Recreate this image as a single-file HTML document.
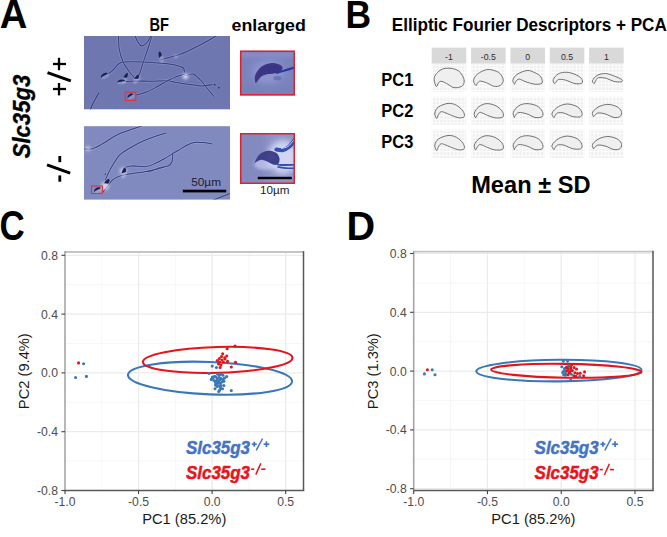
<!DOCTYPE html>
<html><head><meta charset="utf-8"><style>
html,body{margin:0;padding:0;background:#fff;width:667px;height:537px;overflow:hidden}
svg{display:block;font-family:"Liberation Sans",sans-serif}
</style></head><body>
<svg width="667" height="537" viewBox="0 0 667 537" font-family="Liberation Sans, sans-serif"><defs><filter id="blur1" x="-20%" y="-20%" width="140%" height="140%"><feGaussianBlur stdDeviation="0.45"/></filter><filter id="blur2" x="-50%" y="-50%" width="200%" height="200%"><feGaussianBlur stdDeviation="1.5"/></filter><filter id="blur3" x="-50%" y="-50%" width="200%" height="200%"><feGaussianBlur stdDeviation="3"/></filter><pattern id="gp" x="0" y="0" width="3.6" height="3.6" patternUnits="userSpaceOnUse"><rect width="3.6" height="3.6" fill="#f0f0f0"/><rect width="3.6" height="0.9" fill="#fdfdfd"/><rect width="0.9" height="3.6" fill="#fdfdfd"/></pattern></defs>
<text x="-0.3" y="28.2" font-size="40" font-weight="bold" font-style="normal" fill="#000" text-anchor="start" textLength="27.6" lengthAdjust="spacingAndGlyphs">A</text>
<text x="345.6" y="28.4" font-size="39" font-weight="bold" font-style="normal" fill="#000" text-anchor="start" textLength="25.6" lengthAdjust="spacingAndGlyphs">B</text>
<text x="-0.4" y="240.3" font-size="42.5" font-weight="bold" font-style="normal" fill="#000" text-anchor="start" textLength="25.2" lengthAdjust="spacingAndGlyphs">C</text>
<text x="346.4" y="240.2" font-size="40.5" font-weight="bold" font-style="normal" fill="#000" text-anchor="start" textLength="28.6" lengthAdjust="spacingAndGlyphs">D</text>
<text x="149.5" y="31" font-size="18" font-weight="bold" font-style="normal" fill="#000" text-anchor="start" textLength="19.5" lengthAdjust="spacingAndGlyphs">BF</text>
<text x="231.6" y="31" font-size="16.5" font-weight="bold" font-style="normal" fill="#000" text-anchor="start" textLength="74.2" lengthAdjust="spacingAndGlyphs">enlarged</text>
<g transform="translate(29.9,158.3) rotate(-90)"><text x="0" y="0" font-size="24" font-weight="bold" font-style="italic" fill="#000" text-anchor="start" textLength="83.5" lengthAdjust="spacingAndGlyphs" stroke="#000" stroke-width="0.35">Slc35g3</text></g>
<line x1="59" y1="57.8" x2="59" y2="70.2" stroke="#000" stroke-width="2.3"/>
<line x1="53" y1="64" x2="66" y2="64" stroke="#000" stroke-width="2.3"/>
<line x1="47.5" y1="72.6" x2="70.8" y2="80.8" stroke="#000" stroke-width="3.0"/>
<line x1="59" y1="83" x2="59" y2="95.4" stroke="#000" stroke-width="2.3"/>
<line x1="53" y1="89" x2="66" y2="89" stroke="#000" stroke-width="2.3"/>
<line x1="59.8" y1="156" x2="59.8" y2="162.2" stroke="#000" stroke-width="2.8"/>
<line x1="47" y1="164.8" x2="70.2" y2="173.2" stroke="#000" stroke-width="3.0"/>
<line x1="59.8" y1="175.4" x2="59.8" y2="181.7" stroke="#000" stroke-width="2.8"/>
<clipPath id="c1"><rect x="84" y="36" width="146" height="73.3"/></clipPath>
<rect x="84" y="36" width="146" height="73.3" fill="#6f77b0"/>
<g clip-path="url(#c1)"><path d="M118.50,34.00 C118.62,36.50 118.43,44.33 119.20,49.00 C119.97,53.67 121.47,58.30 123.10,62.00 C124.73,65.70 126.93,68.37 129.00,71.20 C131.07,74.03 134.42,77.70 135.50,79.00" fill="none" stroke="#e6e9ff" stroke-width="2.6500000000000004" stroke-opacity="0.18" filter="url(#blur1)"/><path d="M118.50,34.00 C118.62,36.50 118.43,44.33 119.20,49.00 C119.97,53.67 121.47,58.30 123.10,62.00 C124.73,65.70 126.93,68.37 129.00,71.20 C131.07,74.03 134.42,77.70 135.50,79.00" fill="none" stroke="#2f367c" stroke-width="1.05" stroke-opacity="0.9"/><path d="M152.50,34.00 C151.72,36.50 149.33,44.33 147.80,49.00 C146.27,53.67 144.60,58.08 143.30,62.00 C142.00,65.92 141.08,69.67 140.00,72.50 C138.92,75.33 137.33,77.92 136.80,79.00" fill="none" stroke="#e6e9ff" stroke-width="2.6500000000000004" stroke-opacity="0.18" filter="url(#blur1)"/><path d="M152.50,34.00 C151.72,36.50 149.33,44.33 147.80,49.00 C146.27,53.67 144.60,58.08 143.30,62.00 C142.00,65.92 141.08,69.67 140.00,72.50 C138.92,75.33 137.33,77.92 136.80,79.00" fill="none" stroke="#2f367c" stroke-width="1.05" stroke-opacity="0.9"/><path d="M134.30,34.00 C134.82,35.20 136.23,39.23 137.40,41.20 C138.57,43.17 139.78,45.47 141.30,45.80 C142.82,46.13 144.98,44.62 146.50,43.20 C148.02,41.78 149.57,38.83 150.40,37.30 C151.23,35.77 151.32,34.55 151.50,34.00" fill="none" stroke="#e6e9ff" stroke-width="2.6500000000000004" stroke-opacity="0.18" filter="url(#blur1)"/><path d="M134.30,34.00 C134.82,35.20 136.23,39.23 137.40,41.20 C138.57,43.17 139.78,45.47 141.30,45.80 C142.82,46.13 144.98,44.62 146.50,43.20 C148.02,41.78 149.57,38.83 150.40,37.30 C151.23,35.77 151.32,34.55 151.50,34.00" fill="none" stroke="#2f367c" stroke-width="1.05" stroke-opacity="0.9"/><path d="M106.80,74.40 C107.67,73.87 110.05,72.93 112.00,71.20 C113.95,69.47 116.43,65.53 118.50,64.00 C120.57,62.47 120.38,62.33 124.40,62.00 C128.42,61.67 136.00,61.75 142.60,62.00 C149.20,62.25 158.60,63.00 164.00,63.50 C169.40,64.00 171.80,64.25 175.00,65.00 C178.20,65.75 181.62,66.75 183.20,68.00 C184.78,69.25 184.28,71.75 184.50,72.50" fill="none" stroke="#e6e9ff" stroke-width="2.6500000000000004" stroke-opacity="0.18" filter="url(#blur1)"/><path d="M106.80,74.40 C107.67,73.87 110.05,72.93 112.00,71.20 C113.95,69.47 116.43,65.53 118.50,64.00 C120.57,62.47 120.38,62.33 124.40,62.00 C128.42,61.67 136.00,61.75 142.60,62.00 C149.20,62.25 158.60,63.00 164.00,63.50 C169.40,64.00 171.80,64.25 175.00,65.00 C178.20,65.75 181.62,66.75 183.20,68.00 C184.78,69.25 184.28,71.75 184.50,72.50" fill="none" stroke="#2f367c" stroke-width="1.05" stroke-opacity="0.9"/><path d="M160.70,59.70 C162.08,59.33 165.87,58.37 169.00,57.50 C172.13,56.63 176.00,55.75 179.50,54.50 C183.00,53.25 186.58,51.58 190.00,50.00 C193.42,48.42 195.78,47.25 200.00,45.00 C204.22,42.75 212.30,38.33 215.30,36.50 C218.30,34.67 217.55,34.42 218.00,34.00" fill="none" stroke="#e6e9ff" stroke-width="2.6500000000000004" stroke-opacity="0.18" filter="url(#blur1)"/><path d="M160.70,59.70 C162.08,59.33 165.87,58.37 169.00,57.50 C172.13,56.63 176.00,55.75 179.50,54.50 C183.00,53.25 186.58,51.58 190.00,50.00 C193.42,48.42 195.78,47.25 200.00,45.00 C204.22,42.75 212.30,38.33 215.30,36.50 C218.30,34.67 217.55,34.42 218.00,34.00" fill="none" stroke="#2f367c" stroke-width="1.05" stroke-opacity="0.9"/><path d="M185.50,76.00 C186.75,75.67 190.50,73.33 193.00,74.00 C195.50,74.67 198.25,77.75 200.50,80.00 C202.75,82.25 204.25,84.75 206.50,87.50 C208.75,90.25 212.75,95.00 214.00,96.50" fill="none" stroke="#e6e9ff" stroke-width="2.6500000000000004" stroke-opacity="0.18" filter="url(#blur1)"/><path d="M185.50,76.00 C186.75,75.67 190.50,73.33 193.00,74.00 C195.50,74.67 198.25,77.75 200.50,80.00 C202.75,82.25 204.25,84.75 206.50,87.50 C208.75,90.25 212.75,95.00 214.00,96.50" fill="none" stroke="#2f367c" stroke-width="1.05" stroke-opacity="0.9"/><path d="M123.10,81.60 C125.25,81.50 131.52,81.05 136.00,81.00 C140.48,80.95 144.75,81.35 150.00,81.30 C155.25,81.25 163.33,80.55 167.50,80.70 C171.67,80.85 171.25,81.57 175.00,82.20 C178.75,82.83 185.50,83.87 190.00,84.50 C194.50,85.13 198.25,86.00 202.00,86.00 C205.75,86.00 210.75,84.75 212.50,84.50" fill="none" stroke="#e6e9ff" stroke-width="2.6500000000000004" stroke-opacity="0.18" filter="url(#blur1)"/><path d="M123.10,81.60 C125.25,81.50 131.52,81.05 136.00,81.00 C140.48,80.95 144.75,81.35 150.00,81.30 C155.25,81.25 163.33,80.55 167.50,80.70 C171.67,80.85 171.25,81.57 175.00,82.20 C178.75,82.83 185.50,83.87 190.00,84.50 C194.50,85.13 198.25,86.00 202.00,86.00 C205.75,86.00 210.75,84.75 212.50,84.50" fill="none" stroke="#2f367c" stroke-width="1.05" stroke-opacity="0.9"/><path d="M135.50,95.30 C137.33,94.75 142.92,93.42 146.50,92.00 C150.08,90.58 153.25,88.80 157.00,86.80 C160.75,84.80 164.75,82.02 169.00,80.00 C173.25,77.98 179.75,75.33 182.50,74.70 C185.25,74.07 185.00,75.95 185.50,76.20" fill="none" stroke="#e6e9ff" stroke-width="2.6500000000000004" stroke-opacity="0.18" filter="url(#blur1)"/><path d="M135.50,95.30 C137.33,94.75 142.92,93.42 146.50,92.00 C150.08,90.58 153.25,88.80 157.00,86.80 C160.75,84.80 164.75,82.02 169.00,80.00 C173.25,77.98 179.75,75.33 182.50,74.70 C185.25,74.07 185.00,75.95 185.50,76.20" fill="none" stroke="#2f367c" stroke-width="1.05" stroke-opacity="0.9"/><path d="M90.50,110.00 C90.72,109.33 90.72,108.33 91.80,106.00 C92.88,103.67 95.80,98.17 97.00,96.00 C98.20,93.83 98.67,93.50 99.00,93.00" fill="none" stroke="#e6e9ff" stroke-width="2.6500000000000004" stroke-opacity="0.1" filter="url(#blur1)"/><path d="M90.50,110.00 C90.72,109.33 90.72,108.33 91.80,106.00 C92.88,103.67 95.80,98.17 97.00,96.00 C98.20,93.83 98.67,93.50 99.00,93.00" fill="none" stroke="#2f367c" stroke-width="1.05" stroke-opacity="0.9"/><circle cx="185.5" cy="76.5" r="2.8" fill="#f4f0ff" fill-opacity="0.8" filter="url(#blur2)"/><circle cx="176" cy="56.3" r="1.6" fill="#f4f0ff" fill-opacity="0.5" filter="url(#blur2)"/><circle cx="138" cy="78" r="2" fill="#f4f0ff" fill-opacity="0.5" filter="url(#blur2)"/><g transform="rotate(-25 104.2 75.1)"><ellipse cx="104.5" cy="76.53999999999999" rx="4.4799999999999995" ry="2.3" fill="#eef0ff" fill-opacity="0.22" filter="url(#blur1)"/><path d="M100.042,76.36 C100.798,72.75999999999999 107.224,72.58 108.358,75.1 C106.09,76.0 102.688,75.46 100.042,76.36 Z" fill="#1d2157"/></g><g transform="rotate(25 125.7 76.4)"><ellipse cx="126.0" cy="79.52000000000001" rx="2.3200000000000003" ry="4.4" fill="#eef0ff" fill-opacity="0.22" filter="url(#blur1)"/><path d="M123.918,79.13000000000001 C124.242,71.33000000000001 126.99600000000001,70.94000000000001 127.482,76.4 C126.51,78.35000000000001 125.052,77.18 123.918,79.13000000000001 Z" fill="#1d2157"/></g><g transform="rotate(-5 121.1 81)"><ellipse cx="121.39999999999999" cy="82.32" rx="4.4799999999999995" ry="2.1500000000000004" fill="#eef0ff" fill-opacity="0.22" filter="url(#blur1)"/><path d="M116.942,82.155 C117.698,78.855 124.124,78.69 125.258,81 C122.99,81.825 119.588,81.33 116.942,82.155 Z" fill="#1d2157"/></g><g transform="rotate(25 136.8 77.7)"><ellipse cx="137.10000000000002" cy="80.58" rx="2.455" ry="4.1" fill="#eef0ff" fill-opacity="0.22" filter="url(#blur1)"/><path d="M134.86950000000002,80.22 C135.22050000000002,73.02000000000001 138.204,72.66 138.7305,77.7 C137.6775,79.5 136.098,78.42 134.86950000000002,80.22 Z" fill="#1d2157"/></g><g transform="rotate(-15 160.2 55.3)"><ellipse cx="160.5" cy="58.66" rx="2.3200000000000003" ry="4.699999999999999" fill="#eef0ff" fill-opacity="0.22" filter="url(#blur1)"/><path d="M158.41799999999998,58.239999999999995 C158.742,49.839999999999996 161.49599999999998,49.42 161.982,55.3 C161.01,57.4 159.552,56.14 158.41799999999998,58.239999999999995 Z" fill="#1d2157"/></g><g transform="rotate(-25 130.3 95.6)"><ellipse cx="130.60000000000002" cy="97.03999999999999" rx="3.9400000000000004" ry="2.3" fill="#eef0ff" fill-opacity="0.22" filter="url(#blur1)"/><path d="M126.736,96.86 C127.38400000000001,93.25999999999999 132.89200000000002,93.08 133.864,95.6 C131.92000000000002,96.5 129.00400000000002,95.96 126.736,96.86 Z" fill="#1d2157"/></g><circle cx="214.7" cy="84.8" r="0.8" fill="#1c2060"/><circle cx="218.8" cy="87.8" r="0.8" fill="#1c2060"/></g>
<clipPath id="c2"><rect x="84" y="126.2" width="146" height="73.4"/></clipPath>
<rect x="84" y="126.2" width="146" height="73.4" fill="#818abe"/>
<g clip-path="url(#c2)"><path d="M80.00,148.70 C82.05,148.70 88.18,149.73 92.30,148.70 C96.42,147.67 100.35,144.90 104.70,142.50 C109.05,140.10 112.22,137.05 118.40,134.30 C124.58,131.55 136.53,127.88 141.80,126.00 C147.07,124.12 148.63,123.50 150.00,123.00" fill="none" stroke="#e6e9ff" stroke-width="2.6500000000000004" stroke-opacity="0.18" filter="url(#blur1)"/><path d="M80.00,148.70 C82.05,148.70 88.18,149.73 92.30,148.70 C96.42,147.67 100.35,144.90 104.70,142.50 C109.05,140.10 112.22,137.05 118.40,134.30 C124.58,131.55 136.53,127.88 141.80,126.00 C147.07,124.12 148.63,123.50 150.00,123.00" fill="none" stroke="#2f367c" stroke-width="1.05" stroke-opacity="0.9"/><path d="M105.30,179.70 C106.33,177.63 109.08,171.43 111.50,167.30 C113.92,163.17 116.35,158.33 119.80,154.90 C123.25,151.47 127.83,149.22 132.20,146.70 C136.57,144.18 141.70,141.67 146.00,139.80 C150.30,137.93 154.67,136.63 158.00,135.50 C161.33,134.37 164.67,133.42 166.00,133.00" fill="none" stroke="#e6e9ff" stroke-width="2.6500000000000004" stroke-opacity="0.18" filter="url(#blur1)"/><path d="M105.30,179.70 C106.33,177.63 109.08,171.43 111.50,167.30 C113.92,163.17 116.35,158.33 119.80,154.90 C123.25,151.47 127.83,149.22 132.20,146.70 C136.57,144.18 141.70,141.67 146.00,139.80 C150.30,137.93 154.67,136.63 158.00,135.50 C161.33,134.37 164.67,133.42 166.00,133.00" fill="none" stroke="#2f367c" stroke-width="1.05" stroke-opacity="0.9"/><path d="M125.30,167.30 C126.45,167.07 128.75,166.02 132.20,165.90 C135.65,165.78 142.10,167.05 146.00,166.60 C149.90,166.15 152.63,164.47 155.60,163.20 C158.57,161.93 160.15,161.07 163.80,159.00 C167.45,156.93 172.92,153.43 177.50,150.80 C182.08,148.17 187.17,144.58 191.30,143.20 C195.43,141.82 198.85,142.38 202.30,142.50 C205.75,142.62 210.38,143.67 212.00,143.90" fill="none" stroke="#e6e9ff" stroke-width="2.6500000000000004" stroke-opacity="0.18" filter="url(#blur1)"/><path d="M125.30,167.30 C126.45,167.07 128.75,166.02 132.20,165.90 C135.65,165.78 142.10,167.05 146.00,166.60 C149.90,166.15 152.63,164.47 155.60,163.20 C158.57,161.93 160.15,161.07 163.80,159.00 C167.45,156.93 172.92,153.43 177.50,150.80 C182.08,148.17 187.17,144.58 191.30,143.20 C195.43,141.82 198.85,142.38 202.30,142.50 C205.75,142.62 210.38,143.67 212.00,143.90" fill="none" stroke="#2f367c" stroke-width="1.05" stroke-opacity="0.9"/><path d="M146.00,171.40 C146.67,171.40 147.95,171.97 150.00,171.40 C152.05,170.83 155.32,168.92 158.30,168.00 C161.28,167.08 165.62,166.93 167.90,165.90 C170.18,164.87 171.20,163.97 172.00,161.80 C172.80,159.63 172.58,154.38 172.70,152.90" fill="none" stroke="#e6e9ff" stroke-width="2.6500000000000004" stroke-opacity="0.18" filter="url(#blur1)"/><path d="M146.00,171.40 C146.67,171.40 147.95,171.97 150.00,171.40 C152.05,170.83 155.32,168.92 158.30,168.00 C161.28,167.08 165.62,166.93 167.90,165.90 C170.18,164.87 171.20,163.97 172.00,161.80 C172.80,159.63 172.58,154.38 172.70,152.90" fill="none" stroke="#2f367c" stroke-width="1.05" stroke-opacity="0.9"/><path d="M164.00,167.30 C161.00,167.98 151.30,170.37 146.00,171.40 C140.70,172.43 136.33,172.80 132.20,173.50 C128.07,174.20 124.42,174.57 121.20,175.60 C117.98,176.63 115.20,177.87 112.90,179.70 C110.60,181.53 109.23,184.30 107.40,186.60 C105.57,188.90 102.82,192.35 101.90,193.50" fill="none" stroke="#e6e9ff" stroke-width="2.6500000000000004" stroke-opacity="0.18" filter="url(#blur1)"/><path d="M164.00,167.30 C161.00,167.98 151.30,170.37 146.00,171.40 C140.70,172.43 136.33,172.80 132.20,173.50 C128.07,174.20 124.42,174.57 121.20,175.60 C117.98,176.63 115.20,177.87 112.90,179.70 C110.60,181.53 109.23,184.30 107.40,186.60 C105.57,188.90 102.82,192.35 101.90,193.50" fill="none" stroke="#2f367c" stroke-width="1.05" stroke-opacity="0.9"/><path d="M213.30,200.00 C216.08,198.92 227.22,194.58 230.00,193.50" fill="none" stroke="#e6e9ff" stroke-width="2.6500000000000004" stroke-opacity="0.1" filter="url(#blur1)"/><path d="M213.30,200.00 C216.08,198.92 227.22,194.58 230.00,193.50" fill="none" stroke="#2f367c" stroke-width="1.05" stroke-opacity="0.9"/><circle cx="123" cy="171" r="3.5" fill="#f4f0ff" fill-opacity="0.55" filter="url(#blur2)"/><circle cx="105" cy="186" r="4" fill="#f4f0ff" fill-opacity="0.6" filter="url(#blur2)"/><circle cx="88" cy="148.5" r="2.5" fill="#f4f0ff" fill-opacity="0.6" filter="url(#blur2)"/><g transform="rotate(30 106.9 182.3)"><ellipse cx="107.2" cy="185.54000000000002" rx="2.59" ry="4.550000000000001" fill="#eef0ff" fill-opacity="0.22" filter="url(#blur1)"/><path d="M104.82100000000001,185.13500000000002 C105.19900000000001,177.035 108.412,176.63000000000002 108.979,182.3 C107.845,184.32500000000002 106.144,183.11 104.82100000000001,185.13500000000002 Z" fill="#1d2157"/></g><g transform="rotate(10 124 171.4)"><ellipse cx="124.3" cy="174.52" rx="2.59" ry="4.4" fill="#eef0ff" fill-opacity="0.22" filter="url(#blur1)"/><path d="M121.921,174.13 C122.299,166.33 125.512,165.94 126.079,171.4 C124.945,173.35 123.244,172.18 121.921,174.13 Z" fill="#1d2157"/></g><g transform="rotate(-20 97.3 189.4)"><ellipse cx="97.6" cy="190.84" rx="4.21" ry="2.3" fill="#eef0ff" fill-opacity="0.22" filter="url(#blur1)"/><path d="M93.439,190.66 C94.14099999999999,187.06 100.108,186.88 101.161,189.4 C99.05499999999999,190.3 95.896,189.76000000000002 93.439,190.66 Z" fill="#1d2157"/></g><circle cx="105.3" cy="174.2" r="0.6" fill="#1c2060"/></g>
<rect x="125.2" y="92.2" width="10.6" height="8.3" fill="none" stroke="#e3343c" stroke-width="1.1"/>
<rect x="91.5" y="186" width="11" height="7.5" fill="none" stroke="#e3343c" stroke-width="1.1"/>
<rect x="182.8" y="189.7" width="43.4" height="2.7" fill="#000"/>
<text x="191.2" y="185.8" font-size="11.4" font-weight="normal" font-style="normal" fill="#1c1c34" text-anchor="start" textLength="29.8" lengthAdjust="spacingAndGlyphs">50µm</text>
<clipPath id="ce1"><rect x="240" y="50.5" width="55" height="45"/></clipPath>
<g clip-path="url(#ce1)"><rect x="240" y="50.5" width="55" height="45" fill="#7b83bd"/><rect x="236" y="52" width="63" height="5" fill="#8f8fcc" fill-opacity="0.7" filter="url(#blur2)"/><rect x="236" y="84" width="63" height="12" fill="#7880b8" fill-opacity="0.6" filter="url(#blur2)"/><ellipse cx="268" cy="72" rx="16" ry="12" fill="#9aa2dc" fill-opacity="0.55" filter="url(#blur3)"/><path d="M255.70,83.00 C255.12,82.38 254.38,78.42 255.00,76.00 C255.62,73.58 257.57,70.45 259.40,68.50 C261.23,66.55 263.67,65.23 266.00,64.30 C268.33,63.37 271.07,62.82 273.40,62.90 C275.73,62.98 278.45,63.95 280.00,64.80 C281.55,65.65 282.70,66.92 282.70,68.00 C282.70,69.08 281.23,70.43 280.00,71.30 C278.77,72.17 277.17,72.73 275.30,73.20 C273.43,73.67 270.98,73.63 268.80,74.10 C266.62,74.57 263.92,75.07 262.20,76.00 C260.48,76.93 259.58,78.53 258.50,79.70 C257.42,80.87 256.28,83.62 255.70,83.00 Z" fill="#3f3686" filter="url(#blur1)"/><path d="M259.00,75.00 C258.83,74.00 261.17,69.58 263.00,68.00 C264.83,66.42 267.67,65.83 270.00,65.50 C272.33,65.17 275.50,65.42 277.00,66.00 C278.50,66.58 279.83,68.00 279.00,69.00 C278.17,70.00 274.50,71.17 272.00,72.00 C269.50,72.83 266.17,73.50 264.00,74.00 C261.83,74.50 259.17,76.00 259.00,75.00 Z" fill="#3a3482" fill-opacity="0.8" filter="url(#blur1)"/><ellipse cx="277.5" cy="78.3" rx="4" ry="2.2" fill="#6068ac" fill-opacity="0.7" filter="url(#blur1)"/><path d="M276.00,72.90 C277.43,72.50 281.77,71.32 284.60,70.50 C287.43,69.68 291.10,68.58 293.00,68.00 C294.90,67.42 295.50,67.17 296.00,67.00" fill="none" stroke="#243a9a" stroke-width="2.2" filter="url(#blur1)"/></g>
<rect x="240.75" y="51.3" width="53.5" height="43.5" fill="none" stroke="#e3202a" stroke-width="1.5"/>
<clipPath id="ce2"><rect x="240" y="133" width="55" height="51"/></clipPath>
<g clip-path="url(#ce2)"><rect x="240" y="133" width="55" height="51" fill="#8d93c6"/><rect x="236" y="130" width="30" height="56" fill="#7f86bc" fill-opacity="0.7" filter="url(#blur3)"/><ellipse cx="283" cy="157" rx="15" ry="17" fill="#e0e6ff" fill-opacity="0.8" filter="url(#blur3)"/><ellipse cx="265" cy="164" rx="11" ry="6" fill="#d0d6fa" fill-opacity="0.6" filter="url(#blur2)"/><path d="M254.40,163.30 C254.75,162.28 256.80,157.57 258.50,155.60 C260.20,153.63 262.55,152.27 264.60,151.50 C266.65,150.73 268.75,150.67 270.80,151.00 C272.85,151.33 275.45,152.23 276.90,153.50 C278.35,154.77 279.25,156.88 279.50,158.60 C279.75,160.32 279.35,162.77 278.40,163.80 C277.45,164.83 275.58,165.15 273.80,164.80 C272.02,164.45 269.75,162.55 267.70,161.70 C265.65,160.85 263.38,159.70 261.50,159.70 C259.62,159.70 257.58,161.10 256.40,161.70 C255.22,162.30 254.05,164.32 254.40,163.30 Z" fill="#3d3f88" filter="url(#blur1)"/><ellipse cx="271" cy="157" rx="5" ry="3.5" fill="#54498e" fill-opacity="0.35" filter="url(#blur2)"/><path d="M276.50,149.50 C277.58,149.58 280.83,150.50 283.00,150.00 C285.17,149.50 287.67,148.00 289.50,146.50 C291.33,145.00 292.75,142.58 294.00,141.00 C295.25,139.42 296.50,137.67 297.00,137.00" fill="none" stroke="#3550b0" stroke-width="4.2" stroke-linecap="round" filter="url(#blur1)"/><path d="M281.00,148.60 C282.17,148.25 286.00,147.77 288.00,146.50 C290.00,145.23 291.50,142.67 293.00,141.00 C294.50,139.33 296.33,137.25 297.00,136.50" fill="none" stroke="#e8ecff" stroke-width="0.8" filter="url(#blur1)"/><path d="M276.90,164.30 C278.08,164.42 281.18,164.92 284.00,165.00 C286.82,165.08 291.63,164.85 293.80,164.80 C295.97,164.75 296.47,164.72 297.00,164.70" fill="none" stroke="#3550b0" stroke-width="1.9" filter="url(#blur1)"/><path d="M277.50,166.80 C278.92,167.03 283.28,167.93 286.00,168.20 C288.72,168.47 291.97,168.37 293.80,168.40 C295.63,168.43 296.47,168.40 297.00,168.40" fill="none" stroke="#3550b0" stroke-width="1.7" filter="url(#blur1)"/></g>
<rect x="240.75" y="133.75" width="53.5" height="49.5" fill="none" stroke="#e3202a" stroke-width="1.5"/>
<rect x="257.8" y="176.8" width="34" height="2.4" fill="#000"/>
<text x="260.1" y="194.1" font-size="11" font-weight="normal" font-style="normal" fill="#1a1a1a" text-anchor="start" textLength="29.4" lengthAdjust="spacingAndGlyphs">10µm</text>
<text x="391.8" y="31" font-size="17.5" font-weight="bold" font-style="normal" fill="#000" text-anchor="start" textLength="275" lengthAdjust="spacingAndGlyphs">Elliptic Fourier Descriptors + PCA</text>
<text x="381.3" y="85.5" font-size="18" font-weight="bold" font-style="normal" fill="#000" text-anchor="start" textLength="32" lengthAdjust="spacingAndGlyphs">PC1</text>
<text x="381.3" y="116.5" font-size="18" font-weight="bold" font-style="normal" fill="#000" text-anchor="start" textLength="32" lengthAdjust="spacingAndGlyphs">PC2</text>
<text x="381.3" y="147.6" font-size="18" font-weight="bold" font-style="normal" fill="#000" text-anchor="start" textLength="32" lengthAdjust="spacingAndGlyphs">PC3</text>
<text x="471.2" y="193.3" font-size="23.5" font-weight="bold" font-style="normal" fill="#000" text-anchor="start" textLength="119.3" lengthAdjust="spacingAndGlyphs">Mean ± SD</text>
<rect x="431.70" y="47.6" width="34.6" height="16.1" fill="#d9d9d9"/>
<text x="449.0" y="59.6" font-size="8.8" font-weight="normal" font-style="normal" fill="#2e2e2e" text-anchor="middle">-1</text>
<rect x="431.70" y="63.7" width="34.6" height="28.10" fill="url(#gp)"/>
<rect x="431.70" y="96.6" width="34.6" height="28.40" fill="url(#gp)"/>
<rect x="431.70" y="129.4" width="34.6" height="28.60" fill="url(#gp)"/>
<rect x="471.05" y="47.6" width="34.6" height="16.1" fill="#d9d9d9"/>
<text x="488.35" y="59.6" font-size="8.8" font-weight="normal" font-style="normal" fill="#2e2e2e" text-anchor="middle">-0.5</text>
<rect x="471.05" y="63.7" width="34.6" height="28.10" fill="url(#gp)"/>
<rect x="471.05" y="96.6" width="34.6" height="28.40" fill="url(#gp)"/>
<rect x="471.05" y="129.4" width="34.6" height="28.60" fill="url(#gp)"/>
<rect x="510.40" y="47.6" width="34.6" height="16.1" fill="#d9d9d9"/>
<text x="527.6999999999999" y="59.6" font-size="8.8" font-weight="normal" font-style="normal" fill="#2e2e2e" text-anchor="middle">0</text>
<rect x="510.40" y="63.7" width="34.6" height="28.10" fill="url(#gp)"/>
<rect x="510.40" y="96.6" width="34.6" height="28.40" fill="url(#gp)"/>
<rect x="510.40" y="129.4" width="34.6" height="28.60" fill="url(#gp)"/>
<rect x="549.75" y="47.6" width="34.6" height="16.1" fill="#d9d9d9"/>
<text x="567.05" y="59.6" font-size="8.8" font-weight="normal" font-style="normal" fill="#2e2e2e" text-anchor="middle">0.5</text>
<rect x="549.75" y="63.7" width="34.6" height="28.10" fill="url(#gp)"/>
<rect x="549.75" y="96.6" width="34.6" height="28.40" fill="url(#gp)"/>
<rect x="549.75" y="129.4" width="34.6" height="28.60" fill="url(#gp)"/>
<rect x="589.10" y="47.6" width="34.6" height="16.1" fill="#d9d9d9"/>
<text x="606.4" y="59.6" font-size="8.8" font-weight="normal" font-style="normal" fill="#2e2e2e" text-anchor="middle">1</text>
<rect x="589.10" y="63.7" width="34.6" height="28.10" fill="url(#gp)"/>
<rect x="589.10" y="96.6" width="34.6" height="28.40" fill="url(#gp)"/>
<rect x="589.10" y="129.4" width="34.6" height="28.60" fill="url(#gp)"/>
<path d="M435.96,86.10 C435.46,85.12 434.27,81.73 434.17,79.90 C434.07,78.07 434.37,76.70 435.36,75.10 C436.35,73.50 438.41,71.44 440.10,70.30 C441.79,69.16 443.42,68.54 445.50,68.25 C447.58,67.96 450.42,68.11 452.60,68.55 C454.78,68.99 456.95,69.71 458.60,70.90 C460.25,72.09 461.57,74.00 462.50,75.70 C463.43,77.40 464.20,79.42 464.20,81.10 C464.20,82.78 463.63,84.72 462.50,85.80 C461.37,86.88 459.03,87.35 457.40,87.60 C455.77,87.85 454.28,87.85 452.70,87.30 C451.12,86.75 449.70,85.28 447.90,84.30 C446.10,83.32 443.40,81.73 441.90,81.40 C440.40,81.07 439.69,81.57 438.90,82.30 C438.11,83.03 437.64,85.17 437.15,85.80 C436.66,86.43 436.46,87.08 435.96,86.10 Z" fill="#efefef" stroke="#5a5a5a" stroke-width="0.85"/>
<path d="M475.82,85.40 C475.15,84.92 473.26,82.10 473.55,80.20 C473.84,78.30 475.45,75.74 477.55,74.00 C479.65,72.26 483.57,70.38 486.15,69.75 C488.73,69.12 490.77,69.59 493.05,70.20 C495.33,70.81 498.15,71.73 499.85,73.40 C501.55,75.07 503.17,78.20 503.25,80.20 C503.33,82.20 501.87,84.38 500.35,85.40 C498.83,86.42 496.33,86.68 494.15,86.30 C491.97,85.92 489.53,83.97 487.25,83.10 C484.97,82.23 482.07,81.10 480.45,81.10 C478.83,81.10 478.32,82.38 477.55,83.10 C476.78,83.82 476.49,85.88 475.82,85.40 Z" fill="#efefef" stroke="#5a5a5a" stroke-width="0.85"/>
<path d="M514.60,84.20 C514.12,84.00 512.52,81.82 512.90,80.20 C513.28,78.58 514.52,76.12 516.90,74.50 C519.27,72.88 524.12,70.78 527.15,70.50 C530.18,70.22 532.83,71.75 535.10,72.80 C537.38,73.85 539.65,75.08 540.80,76.80 C541.95,78.52 542.95,81.87 542.00,83.10 C541.05,84.33 537.77,84.40 535.10,84.20 C532.43,84.00 528.65,82.75 526.00,81.90 C523.35,81.05 520.90,79.18 519.20,79.10 C517.50,79.02 516.57,80.55 515.80,81.40 C515.03,82.25 515.08,84.40 514.60,84.20 Z" fill="#efefef" stroke="#5a5a5a" stroke-width="0.85"/>
<path d="M554.45,83.60 C554.05,83.10 552.57,81.15 553.25,79.50 C553.93,77.85 556.30,74.90 558.55,73.70 C560.80,72.50 564.02,72.20 566.75,72.30 C569.48,72.40 572.52,73.28 574.95,74.30 C577.38,75.32 580.18,76.93 581.35,78.40 C582.52,79.87 583.02,82.23 581.95,83.10 C580.88,83.97 577.68,84.10 574.95,83.60 C572.22,83.10 568.28,80.78 565.55,80.10 C562.82,79.42 560.20,79.10 558.55,79.50 C556.90,79.90 556.33,81.82 555.65,82.50 C554.97,83.18 554.85,84.10 554.45,83.60 Z" fill="#efefef" stroke="#5a5a5a" stroke-width="0.85"/>
<path d="M594.20,83.60 C593.72,83.50 592.02,82.06 592.50,80.70 C592.98,79.34 594.97,76.65 597.10,75.45 C599.23,74.25 602.57,73.44 605.30,73.50 C608.03,73.56 610.77,74.80 613.50,75.80 C616.23,76.80 620.43,78.48 621.70,79.50 C622.97,80.52 622.47,81.60 621.10,81.90 C619.73,82.20 615.93,81.88 613.50,81.30 C611.07,80.72 609.03,78.98 606.50,78.40 C603.97,77.82 600.15,77.32 598.30,77.80 C596.45,78.28 596.08,80.33 595.40,81.30 C594.72,82.27 594.68,83.70 594.20,83.60 Z" fill="#efefef" stroke="#5a5a5a" stroke-width="0.85"/>
<path d="M436.60,118.40 C436.00,118.10 434.50,114.90 434.80,113.00 C435.10,111.10 436.20,108.60 438.40,107.00 C440.60,105.40 445.00,103.70 448.00,103.40 C451.00,103.10 453.90,103.90 456.40,105.20 C458.90,106.50 461.70,109.30 463.00,111.20 C464.30,113.10 464.90,115.50 464.20,116.60 C463.50,117.70 460.90,118.00 458.80,117.80 C456.70,117.60 454.00,116.30 451.60,115.40 C449.20,114.50 446.20,113.00 444.40,112.40 C442.60,111.80 441.80,111.40 440.80,111.80 C439.80,112.20 439.10,113.70 438.40,114.80 C437.70,115.90 437.20,118.70 436.60,118.40 Z" fill="#efefef" stroke="#5a5a5a" stroke-width="0.85"/>
<path d="M475.55,117.80 C475.05,117.50 473.85,114.80 474.35,113.00 C474.85,111.20 476.55,108.57 478.55,107.00 C480.55,105.43 483.45,103.80 486.35,103.60 C489.25,103.40 493.25,104.43 495.95,105.80 C498.65,107.17 501.45,109.90 502.55,111.80 C503.65,113.70 503.85,116.20 502.55,117.20 C501.25,118.20 497.25,118.10 494.75,117.80 C492.25,117.50 489.95,116.30 487.55,115.40 C485.15,114.50 482.05,112.50 480.35,112.40 C478.65,112.30 478.15,113.90 477.35,114.80 C476.55,115.70 476.05,118.10 475.55,117.80 Z" fill="#efefef" stroke="#5a5a5a" stroke-width="0.85"/>
<path d="M514.30,117.50 C514.00,116.90 512.65,114.05 513.40,112.10 C514.15,110.15 516.55,107.22 518.80,105.80 C521.05,104.38 523.90,103.60 526.90,103.60 C529.90,103.60 534.25,104.53 536.80,105.80 C539.35,107.07 541.30,109.40 542.20,111.20 C543.10,113.00 543.40,115.55 542.20,116.60 C541.00,117.65 537.55,117.95 535.00,117.50 C532.45,117.05 529.60,114.73 526.90,113.90 C524.20,113.07 520.75,112.20 518.80,112.50 C516.85,112.80 515.95,114.87 515.20,115.70 C514.45,116.53 514.60,118.10 514.30,117.50 Z" fill="#efefef" stroke="#5a5a5a" stroke-width="0.85"/>
<path d="M553.85,117.50 C553.40,116.97 551.30,114.80 552.05,113.00 C552.80,111.20 555.80,108.20 558.35,106.70 C560.90,105.20 564.20,104.00 567.35,104.00 C570.50,104.00 574.85,105.35 577.25,106.70 C579.65,108.05 581.15,110.45 581.75,112.10 C582.35,113.75 582.35,115.85 580.85,116.60 C579.35,117.35 575.60,117.20 572.75,116.60 C569.90,116.00 566.30,113.60 563.75,113.00 C561.20,112.40 558.95,112.47 557.45,113.00 C555.95,113.53 555.35,115.45 554.75,116.20 C554.15,116.95 554.30,118.03 553.85,117.50 Z" fill="#efefef" stroke="#5a5a5a" stroke-width="0.85"/>
<path d="M593.50,116.60 C593.20,116.00 591.70,113.75 592.60,112.10 C593.50,110.45 596.35,107.98 598.90,106.70 C601.45,105.42 604.90,104.40 607.90,104.40 C610.90,104.40 614.67,105.57 616.90,106.70 C619.13,107.83 620.72,109.62 621.30,111.20 C621.88,112.78 621.60,115.15 620.40,116.20 C619.20,117.25 616.65,117.88 614.10,117.50 C611.55,117.12 607.80,114.65 605.10,113.90 C602.40,113.15 599.68,112.70 597.90,113.00 C596.12,113.30 595.13,115.10 594.40,115.70 C593.67,116.30 593.80,117.20 593.50,116.60 Z" fill="#efefef" stroke="#5a5a5a" stroke-width="0.85"/>
<path d="M436.60,150.50 C436.00,150.20 434.50,147.00 434.80,145.10 C435.10,143.20 436.20,140.70 438.40,139.10 C440.60,137.50 445.00,135.80 448.00,135.50 C451.00,135.20 453.90,136.00 456.40,137.30 C458.90,138.60 461.70,141.40 463.00,143.30 C464.30,145.20 464.90,147.60 464.20,148.70 C463.50,149.80 460.90,150.10 458.80,149.90 C456.70,149.70 454.00,148.40 451.60,147.50 C449.20,146.60 446.20,145.10 444.40,144.50 C442.60,143.90 441.80,143.50 440.80,143.90 C439.80,144.30 439.10,145.80 438.40,146.90 C437.70,148.00 437.20,150.80 436.60,150.50 Z" fill="#efefef" stroke="#5a5a5a" stroke-width="0.85"/>
<path d="M475.55,149.90 C475.05,149.60 473.85,146.90 474.35,145.10 C474.85,143.30 476.55,140.67 478.55,139.10 C480.55,137.53 483.45,135.90 486.35,135.70 C489.25,135.50 493.25,136.53 495.95,137.90 C498.65,139.27 501.45,142.00 502.55,143.90 C503.65,145.80 503.85,148.30 502.55,149.30 C501.25,150.30 497.25,150.20 494.75,149.90 C492.25,149.60 489.95,148.40 487.55,147.50 C485.15,146.60 482.05,144.60 480.35,144.50 C478.65,144.40 478.15,146.00 477.35,146.90 C476.55,147.80 476.05,150.20 475.55,149.90 Z" fill="#efefef" stroke="#5a5a5a" stroke-width="0.85"/>
<path d="M514.30,149.60 C514.00,149.00 512.65,146.15 513.40,144.20 C514.15,142.25 516.55,139.32 518.80,137.90 C521.05,136.48 523.90,135.70 526.90,135.70 C529.90,135.70 534.25,136.63 536.80,137.90 C539.35,139.17 541.30,141.50 542.20,143.30 C543.10,145.10 543.40,147.65 542.20,148.70 C541.00,149.75 537.55,150.05 535.00,149.60 C532.45,149.15 529.60,146.83 526.90,146.00 C524.20,145.17 520.75,144.30 518.80,144.60 C516.85,144.90 515.95,146.97 515.20,147.80 C514.45,148.63 514.60,150.20 514.30,149.60 Z" fill="#efefef" stroke="#5a5a5a" stroke-width="0.85"/>
<path d="M553.85,149.60 C553.40,149.07 551.30,146.90 552.05,145.10 C552.80,143.30 555.80,140.30 558.35,138.80 C560.90,137.30 564.20,136.10 567.35,136.10 C570.50,136.10 574.85,137.45 577.25,138.80 C579.65,140.15 581.15,142.55 581.75,144.20 C582.35,145.85 582.35,147.95 580.85,148.70 C579.35,149.45 575.60,149.30 572.75,148.70 C569.90,148.10 566.30,145.70 563.75,145.10 C561.20,144.50 558.95,144.57 557.45,145.10 C555.95,145.63 555.35,147.55 554.75,148.30 C554.15,149.05 554.30,150.13 553.85,149.60 Z" fill="#efefef" stroke="#5a5a5a" stroke-width="0.85"/>
<path d="M593.50,148.70 C593.20,148.10 591.70,145.85 592.60,144.20 C593.50,142.55 596.35,140.08 598.90,138.80 C601.45,137.52 604.90,136.50 607.90,136.50 C610.90,136.50 614.67,137.67 616.90,138.80 C619.13,139.93 620.72,141.72 621.30,143.30 C621.88,144.88 621.60,147.25 620.40,148.30 C619.20,149.35 616.65,149.98 614.10,149.60 C611.55,149.22 607.80,146.75 605.10,146.00 C602.40,145.25 599.68,144.80 597.90,145.10 C596.12,145.40 595.13,147.20 594.40,147.80 C593.67,148.40 593.80,149.30 593.50,148.70 Z" fill="#efefef" stroke="#5a5a5a" stroke-width="0.85"/>
<line x1="101.78" y1="252" x2="101.78" y2="490.5" stroke="#f2f2f2" stroke-width="0.7"/>
<line x1="175.35" y1="252" x2="175.35" y2="490.5" stroke="#f2f2f2" stroke-width="0.7"/>
<line x1="248.91" y1="252" x2="248.91" y2="490.5" stroke="#f2f2f2" stroke-width="0.7"/>
<line x1="65" y1="461.10" x2="303.5" y2="461.10" stroke="#f2f2f2" stroke-width="0.7"/>
<line x1="65" y1="402.30" x2="303.5" y2="402.30" stroke="#f2f2f2" stroke-width="0.7"/>
<line x1="65" y1="343.50" x2="303.5" y2="343.50" stroke="#f2f2f2" stroke-width="0.7"/>
<line x1="65" y1="284.70" x2="303.5" y2="284.70" stroke="#f2f2f2" stroke-width="0.7"/>
<line x1="138.56" y1="252" x2="138.56" y2="490.5" stroke="#ebebeb" stroke-width="1.2"/>
<line x1="212.13" y1="252" x2="212.13" y2="490.5" stroke="#ebebeb" stroke-width="1.2"/>
<line x1="285.69" y1="252" x2="285.69" y2="490.5" stroke="#ebebeb" stroke-width="1.2"/>
<line x1="65" y1="490.50" x2="303.5" y2="490.50" stroke="#ebebeb" stroke-width="1.2"/>
<line x1="65" y1="431.70" x2="303.5" y2="431.70" stroke="#ebebeb" stroke-width="1.2"/>
<line x1="65" y1="372.90" x2="303.5" y2="372.90" stroke="#ebebeb" stroke-width="1.2"/>
<line x1="65" y1="314.10" x2="303.5" y2="314.10" stroke="#ebebeb" stroke-width="1.2"/>
<line x1="65" y1="255.30" x2="303.5" y2="255.30" stroke="#ebebeb" stroke-width="1.2"/>
<ellipse cx="210" cy="378.2" rx="82.1" ry="16.2" transform="rotate(2.3 210 378.2)" fill="none" stroke="#3878b6" stroke-width="2.1"/>
<ellipse cx="217.7" cy="359.9" rx="74.8" ry="12.9" transform="rotate(-1.6 217.7 359.9)" fill="none" stroke="#e3141b" stroke-width="2.1"/>
<circle cx="212.2" cy="366.1" r="1.55" fill="#3878b6"/>
<circle cx="216.4" cy="367.5" r="1.55" fill="#3878b6"/>
<circle cx="209.0" cy="373.5" r="1.55" fill="#3878b6"/>
<circle cx="226.7" cy="376.6" r="1.55" fill="#3878b6"/>
<circle cx="211.3" cy="379.4" r="1.55" fill="#3878b6"/>
<circle cx="214.6" cy="376.2" r="1.55" fill="#3878b6"/>
<circle cx="219.2" cy="375.2" r="1.55" fill="#3878b6"/>
<circle cx="222.9" cy="375.2" r="1.55" fill="#3878b6"/>
<circle cx="217.3" cy="379.0" r="1.55" fill="#3878b6"/>
<circle cx="221.1" cy="378.5" r="1.55" fill="#3878b6"/>
<circle cx="218.3" cy="381.3" r="1.55" fill="#3878b6"/>
<circle cx="223.9" cy="381.3" r="1.55" fill="#3878b6"/>
<circle cx="220.1" cy="383.2" r="1.55" fill="#3878b6"/>
<circle cx="215.5" cy="385.0" r="1.55" fill="#3878b6"/>
<circle cx="223.9" cy="385.5" r="1.55" fill="#3878b6"/>
<circle cx="215.0" cy="388.7" r="1.55" fill="#3878b6"/>
<circle cx="222.5" cy="388.7" r="1.55" fill="#3878b6"/>
<circle cx="218.7" cy="391.5" r="1.55" fill="#3878b6"/>
<circle cx="219.7" cy="390.1" r="1.55" fill="#3878b6"/>
<circle cx="231.3" cy="390.6" r="1.55" fill="#3878b6"/>
<circle cx="216.0" cy="377.0" r="1.55" fill="#3878b6"/>
<circle cx="220.0" cy="380.0" r="1.55" fill="#3878b6"/>
<circle cx="218.0" cy="383.0" r="1.55" fill="#3878b6"/>
<circle cx="222.0" cy="382.0" r="1.55" fill="#3878b6"/>
<circle cx="216.0" cy="381.0" r="1.55" fill="#3878b6"/>
<circle cx="213.0" cy="378.0" r="1.55" fill="#3878b6"/>
<circle cx="219.0" cy="386.0" r="1.55" fill="#3878b6"/>
<circle cx="221.0" cy="374.0" r="1.55" fill="#3878b6"/>
<circle cx="217.5" cy="374.0" r="1.55" fill="#3878b6"/>
<circle cx="224.5" cy="378.0" r="1.55" fill="#3878b6"/>
<circle cx="214.0" cy="380.5" r="1.55" fill="#3878b6"/>
<circle cx="217.0" cy="383.5" r="1.55" fill="#3878b6"/>
<circle cx="221.0" cy="385.5" r="1.55" fill="#3878b6"/>
<circle cx="223.0" cy="379.5" r="1.55" fill="#3878b6"/>
<circle cx="219.0" cy="377.5" r="1.55" fill="#3878b6"/>
<circle cx="215.5" cy="382.5" r="1.55" fill="#3878b6"/>
<circle cx="212.5" cy="377.0" r="1.55" fill="#3878b6"/>
<circle cx="220.5" cy="388.0" r="1.55" fill="#3878b6"/>
<circle cx="217.0" cy="386.5" r="1.55" fill="#3878b6"/>
<circle cx="227.1" cy="348.8" r="1.55" fill="#e3141b"/>
<circle cx="235.0" cy="346.0" r="1.55" fill="#e3141b"/>
<circle cx="222.7" cy="353.8" r="1.55" fill="#e3141b"/>
<circle cx="226.7" cy="356.0" r="1.55" fill="#e3141b"/>
<circle cx="224.8" cy="357.7" r="1.55" fill="#e3141b"/>
<circle cx="219.4" cy="358.6" r="1.55" fill="#e3141b"/>
<circle cx="217.3" cy="360.5" r="1.55" fill="#e3141b"/>
<circle cx="222.0" cy="360.0" r="1.55" fill="#e3141b"/>
<circle cx="227.6" cy="361.4" r="1.55" fill="#e3141b"/>
<circle cx="235.5" cy="362.3" r="1.55" fill="#e3141b"/>
<circle cx="221.0" cy="365.1" r="1.55" fill="#e3141b"/>
<circle cx="220.1" cy="367.5" r="1.55" fill="#e3141b"/>
<circle cx="231.3" cy="367.0" r="1.55" fill="#e3141b"/>
<circle cx="223.4" cy="362.3" r="1.55" fill="#e3141b"/>
<circle cx="219.5" cy="362.0" r="1.55" fill="#e3141b"/>
<circle cx="225.0" cy="359.0" r="1.55" fill="#e3141b"/>
<circle cx="221.5" cy="356.5" r="1.55" fill="#e3141b"/>
<circle cx="218.5" cy="364.0" r="1.55" fill="#e3141b"/>
<circle cx="75.6" cy="377.5" r="1.55" fill="#3878b6"/>
<circle cx="86.4" cy="376.4" r="1.55" fill="#3878b6"/>
<circle cx="83.6" cy="363.7" r="1.55" fill="#3878b6"/>
<circle cx="78.6" cy="362.9" r="1.55" fill="#e3141b"/>
<line x1="65" y1="252" x2="303.5" y2="252" stroke="#c4c4c4" stroke-width="1.8"/>
<line x1="303.5" y1="251.1" x2="303.5" y2="490.5" stroke="#555" stroke-width="1.5"/>
<line x1="65" y1="251.1" x2="65" y2="491.3" stroke="#a6a6a6" stroke-width="1.6"/>
<line x1="65" y1="490.5" x2="304.25" y2="490.5" stroke="#595959" stroke-width="1.6"/>
<line x1="61.4" y1="255.30" x2="65" y2="255.30" stroke="#444" stroke-width="1.1"/>
<text x="58" y="259.69999999999993" font-size="12.2" font-weight="normal" font-style="normal" fill="#4d4d4d" text-anchor="end">0.8</text>
<line x1="61.4" y1="314.10" x2="65" y2="314.10" stroke="#444" stroke-width="1.1"/>
<text x="58" y="318.49999999999994" font-size="12.2" font-weight="normal" font-style="normal" fill="#4d4d4d" text-anchor="end">0.4</text>
<line x1="61.4" y1="372.90" x2="65" y2="372.90" stroke="#444" stroke-width="1.1"/>
<text x="58" y="377.29999999999995" font-size="12.2" font-weight="normal" font-style="normal" fill="#4d4d4d" text-anchor="end">0.0</text>
<line x1="61.4" y1="431.70" x2="65" y2="431.70" stroke="#444" stroke-width="1.1"/>
<text x="58" y="436.09999999999997" font-size="12.2" font-weight="normal" font-style="normal" fill="#4d4d4d" text-anchor="end">-0.4</text>
<line x1="61.4" y1="490.50" x2="65" y2="490.50" stroke="#444" stroke-width="1.1"/>
<text x="58" y="494.9" font-size="12.2" font-weight="normal" font-style="normal" fill="#4d4d4d" text-anchor="end">-0.8</text>
<line x1="65.00" y1="490.5" x2="65.00" y2="494.1" stroke="#444" stroke-width="1.1"/>
<text x="65.0" y="505.9" font-size="12.2" font-weight="normal" font-style="normal" fill="#4d4d4d" text-anchor="middle">-1.0</text>
<line x1="138.56" y1="490.5" x2="138.56" y2="494.1" stroke="#444" stroke-width="1.1"/>
<text x="138.565" y="505.9" font-size="12.2" font-weight="normal" font-style="normal" fill="#4d4d4d" text-anchor="middle">-0.5</text>
<line x1="212.13" y1="490.5" x2="212.13" y2="494.1" stroke="#444" stroke-width="1.1"/>
<text x="212.13" y="505.9" font-size="12.2" font-weight="normal" font-style="normal" fill="#4d4d4d" text-anchor="middle">0.0</text>
<line x1="285.69" y1="490.5" x2="285.69" y2="494.1" stroke="#444" stroke-width="1.1"/>
<text x="285.695" y="505.9" font-size="12.2" font-weight="normal" font-style="normal" fill="#4d4d4d" text-anchor="middle">0.5</text>
<text x="184.25" y="523.7" font-size="14.7" font-weight="normal" font-style="normal" fill="#1a1a1a" text-anchor="middle">PC1 (85.2%)</text>
<g transform="translate(29.1,371.2) rotate(-90)"><text x="0" y="0" font-size="14.7" font-weight="normal" font-style="normal" fill="#1a1a1a" text-anchor="middle">PC2 (9.4%)</text></g>
<line x1="450.58" y1="251.7" x2="450.58" y2="490.5" stroke="#f2f2f2" stroke-width="0.7"/>
<line x1="524.35" y1="251.7" x2="524.35" y2="490.5" stroke="#f2f2f2" stroke-width="0.7"/>
<line x1="598.11" y1="251.7" x2="598.11" y2="490.5" stroke="#f2f2f2" stroke-width="0.7"/>
<line x1="413.7" y1="459.30" x2="653" y2="459.30" stroke="#f2f2f2" stroke-width="0.7"/>
<line x1="413.7" y1="400.50" x2="653" y2="400.50" stroke="#f2f2f2" stroke-width="0.7"/>
<line x1="413.7" y1="341.70" x2="653" y2="341.70" stroke="#f2f2f2" stroke-width="0.7"/>
<line x1="413.7" y1="282.90" x2="653" y2="282.90" stroke="#f2f2f2" stroke-width="0.7"/>
<line x1="487.46" y1="251.7" x2="487.46" y2="490.5" stroke="#ebebeb" stroke-width="1.2"/>
<line x1="561.23" y1="251.7" x2="561.23" y2="490.5" stroke="#ebebeb" stroke-width="1.2"/>
<line x1="635.00" y1="251.7" x2="635.00" y2="490.5" stroke="#ebebeb" stroke-width="1.2"/>
<line x1="413.7" y1="488.70" x2="653" y2="488.70" stroke="#ebebeb" stroke-width="1.2"/>
<line x1="413.7" y1="429.90" x2="653" y2="429.90" stroke="#ebebeb" stroke-width="1.2"/>
<line x1="413.7" y1="371.10" x2="653" y2="371.10" stroke="#ebebeb" stroke-width="1.2"/>
<line x1="413.7" y1="312.30" x2="653" y2="312.30" stroke="#ebebeb" stroke-width="1.2"/>
<line x1="413.7" y1="253.50" x2="653" y2="253.50" stroke="#ebebeb" stroke-width="1.2"/>
<ellipse cx="558.9" cy="370.6" rx="82.6" ry="10.8" transform="rotate(-0.45 558.9 370.6)" fill="none" stroke="#3878b6" stroke-width="2.1"/>
<ellipse cx="566.3" cy="370.8" rx="75.2" ry="6.9" transform="rotate(0.9 566.3 370.8)" fill="none" stroke="#e3141b" stroke-width="2.1"/>
<circle cx="561.8" cy="366.7" r="1.55" fill="#3878b6"/>
<circle cx="563.4" cy="361.1" r="1.55" fill="#3878b6"/>
<circle cx="567.6" cy="361.1" r="1.55" fill="#3878b6"/>
<circle cx="563.7" cy="371.1" r="1.55" fill="#3878b6"/>
<circle cx="563.7" cy="374.8" r="1.55" fill="#3878b6"/>
<circle cx="565.5" cy="373.2" r="1.55" fill="#3878b6"/>
<circle cx="566.0" cy="370.6" r="1.55" fill="#3878b6"/>
<circle cx="568.6" cy="365.9" r="1.55" fill="#3878b6"/>
<circle cx="571.3" cy="374.3" r="1.55" fill="#3878b6"/>
<circle cx="570.7" cy="380.0" r="1.55" fill="#3878b6"/>
<circle cx="579.7" cy="376.4" r="1.55" fill="#3878b6"/>
<circle cx="565.5" cy="375.3" r="1.55" fill="#3878b6"/>
<circle cx="564.5" cy="368.5" r="1.55" fill="#3878b6"/>
<circle cx="562.8" cy="372.5" r="1.55" fill="#3878b6"/>
<circle cx="566.5" cy="367.4" r="1.55" fill="#e3141b"/>
<circle cx="570.7" cy="366.9" r="1.55" fill="#e3141b"/>
<circle cx="576.5" cy="369.0" r="1.55" fill="#e3141b"/>
<circle cx="572.3" cy="370.6" r="1.55" fill="#e3141b"/>
<circle cx="569.2" cy="372.7" r="1.55" fill="#e3141b"/>
<circle cx="574.9" cy="372.7" r="1.55" fill="#e3141b"/>
<circle cx="580.2" cy="373.2" r="1.55" fill="#e3141b"/>
<circle cx="584.6" cy="371.9" r="1.55" fill="#e3141b"/>
<circle cx="583.6" cy="375.8" r="1.55" fill="#e3141b"/>
<circle cx="568.1" cy="374.8" r="1.55" fill="#e3141b"/>
<circle cx="573.9" cy="375.8" r="1.55" fill="#e3141b"/>
<circle cx="576.0" cy="376.4" r="1.55" fill="#e3141b"/>
<circle cx="571.8" cy="364.8" r="1.55" fill="#e3141b"/>
<circle cx="568.1" cy="368.5" r="1.55" fill="#e3141b"/>
<circle cx="570.7" cy="369.0" r="1.55" fill="#e3141b"/>
<circle cx="567.5" cy="371.0" r="1.55" fill="#e3141b"/>
<circle cx="570.0" cy="371.5" r="1.55" fill="#e3141b"/>
<circle cx="574.0" cy="367.5" r="1.55" fill="#e3141b"/>
<circle cx="577.5" cy="373.5" r="1.55" fill="#e3141b"/>
<circle cx="424.4" cy="373.9" r="1.55" fill="#3878b6"/>
<circle cx="435.0" cy="374.8" r="1.55" fill="#3878b6"/>
<circle cx="432.2" cy="369.8" r="1.55" fill="#3878b6"/>
<circle cx="427.4" cy="369.8" r="1.55" fill="#e3141b"/>
<line x1="413.7" y1="251.7" x2="653" y2="251.7" stroke="#c4c4c4" stroke-width="1.8"/>
<line x1="653" y1="250.79999999999998" x2="653" y2="490.5" stroke="#555" stroke-width="1.5"/>
<line x1="413.7" y1="250.79999999999998" x2="413.7" y2="491.3" stroke="#a6a6a6" stroke-width="1.6"/>
<line x1="413.7" y1="490.5" x2="653.75" y2="490.5" stroke="#595959" stroke-width="1.6"/>
<line x1="410.09999999999997" y1="253.50" x2="413.7" y2="253.50" stroke="#444" stroke-width="1.1"/>
<text x="406.7" y="257.9" font-size="12.2" font-weight="normal" font-style="normal" fill="#4d4d4d" text-anchor="end">0.8</text>
<line x1="410.09999999999997" y1="312.30" x2="413.7" y2="312.30" stroke="#444" stroke-width="1.1"/>
<text x="406.7" y="316.7" font-size="12.2" font-weight="normal" font-style="normal" fill="#4d4d4d" text-anchor="end">0.4</text>
<line x1="410.09999999999997" y1="371.10" x2="413.7" y2="371.10" stroke="#444" stroke-width="1.1"/>
<text x="406.7" y="375.5" font-size="12.2" font-weight="normal" font-style="normal" fill="#4d4d4d" text-anchor="end">0.0</text>
<line x1="410.09999999999997" y1="429.90" x2="413.7" y2="429.90" stroke="#444" stroke-width="1.1"/>
<text x="406.7" y="434.3" font-size="12.2" font-weight="normal" font-style="normal" fill="#4d4d4d" text-anchor="end">-0.4</text>
<line x1="410.09999999999997" y1="488.70" x2="413.7" y2="488.70" stroke="#444" stroke-width="1.1"/>
<text x="406.7" y="493.1" font-size="12.2" font-weight="normal" font-style="normal" fill="#4d4d4d" text-anchor="end">-0.8</text>
<line x1="413.70" y1="490.5" x2="413.70" y2="494.1" stroke="#444" stroke-width="1.1"/>
<text x="413.7" y="505.9" font-size="12.2" font-weight="normal" font-style="normal" fill="#4d4d4d" text-anchor="middle">-1.0</text>
<line x1="487.46" y1="490.5" x2="487.46" y2="494.1" stroke="#444" stroke-width="1.1"/>
<text x="487.465" y="505.9" font-size="12.2" font-weight="normal" font-style="normal" fill="#4d4d4d" text-anchor="middle">-0.5</text>
<line x1="561.23" y1="490.5" x2="561.23" y2="494.1" stroke="#444" stroke-width="1.1"/>
<text x="561.23" y="505.9" font-size="12.2" font-weight="normal" font-style="normal" fill="#4d4d4d" text-anchor="middle">0.0</text>
<line x1="635.00" y1="490.5" x2="635.00" y2="494.1" stroke="#444" stroke-width="1.1"/>
<text x="634.995" y="505.9" font-size="12.2" font-weight="normal" font-style="normal" fill="#4d4d4d" text-anchor="middle">0.5</text>
<text x="533.35" y="523.7" font-size="14.7" font-weight="normal" font-style="normal" fill="#1a1a1a" text-anchor="middle">PC1 (85.2%)</text>
<g transform="translate(377.9,371.2) rotate(-90)"><text x="0" y="0" font-size="14.7" font-weight="normal" font-style="normal" fill="#1a1a1a" text-anchor="middle">PC3 (1.3%)</text></g>
<text x="186" y="453.8" font-size="17.5" font-weight="bold" font-style="italic" fill="#4472c4" text-anchor="start" textLength="64" lengthAdjust="spacingAndGlyphs" stroke="#4472c4" stroke-width="0.45">Slc35g3</text>
<line x1="251.8" y1="444.2" x2="256.8" y2="444.2" stroke="#4472c4" stroke-width="1.7"/>
<line x1="254.3" y1="441.7" x2="254.3" y2="446.7" stroke="#4472c4" stroke-width="1.7"/>
<line x1="256.2" y1="450.3" x2="262.6" y2="438.5" stroke="#4472c4" stroke-width="1.5"/>
<line x1="263.6" y1="444.2" x2="269.3" y2="444.2" stroke="#4472c4" stroke-width="1.7"/>
<line x1="266.45" y1="441.3" x2="266.45" y2="447.1" stroke="#4472c4" stroke-width="1.7"/>
<text x="186" y="478.6" font-size="17.5" font-weight="bold" font-style="italic" fill="#e8141c" text-anchor="start" textLength="64" lengthAdjust="spacingAndGlyphs" stroke="#e8141c" stroke-width="0.45">Slc35g3</text>
<line x1="251.2" y1="469.2" x2="254.2" y2="469.2" stroke="#e8141c" stroke-width="1.6"/>
<line x1="255.8" y1="474.6" x2="260.8" y2="463.4" stroke="#e8141c" stroke-width="1.5"/>
<line x1="261.3" y1="469.2" x2="265.4" y2="469.2" stroke="#e8141c" stroke-width="1.6"/>
<text x="534.6" y="453.8" font-size="17.5" font-weight="bold" font-style="italic" fill="#4472c4" text-anchor="start" textLength="64" lengthAdjust="spacingAndGlyphs" stroke="#4472c4" stroke-width="0.45">Slc35g3</text>
<line x1="600.4000000000001" y1="444.2" x2="605.4000000000001" y2="444.2" stroke="#4472c4" stroke-width="1.7"/>
<line x1="602.9000000000001" y1="441.7" x2="602.9000000000001" y2="446.7" stroke="#4472c4" stroke-width="1.7"/>
<line x1="604.8" y1="450.3" x2="611.2" y2="438.5" stroke="#4472c4" stroke-width="1.5"/>
<line x1="612.2" y1="444.2" x2="617.9000000000001" y2="444.2" stroke="#4472c4" stroke-width="1.7"/>
<line x1="615.05" y1="441.3" x2="615.05" y2="447.1" stroke="#4472c4" stroke-width="1.7"/>
<text x="534.6" y="479.0" font-size="17.5" font-weight="bold" font-style="italic" fill="#e8141c" text-anchor="start" textLength="64" lengthAdjust="spacingAndGlyphs" stroke="#e8141c" stroke-width="0.45">Slc35g3</text>
<line x1="599.8" y1="469.59999999999997" x2="602.8" y2="469.59999999999997" stroke="#e8141c" stroke-width="1.6"/>
<line x1="604.4000000000001" y1="475.0" x2="609.4000000000001" y2="463.79999999999995" stroke="#e8141c" stroke-width="1.5"/>
<line x1="609.9000000000001" y1="469.59999999999997" x2="614.0" y2="469.59999999999997" stroke="#e8141c" stroke-width="1.6"/></svg>
</body></html>
